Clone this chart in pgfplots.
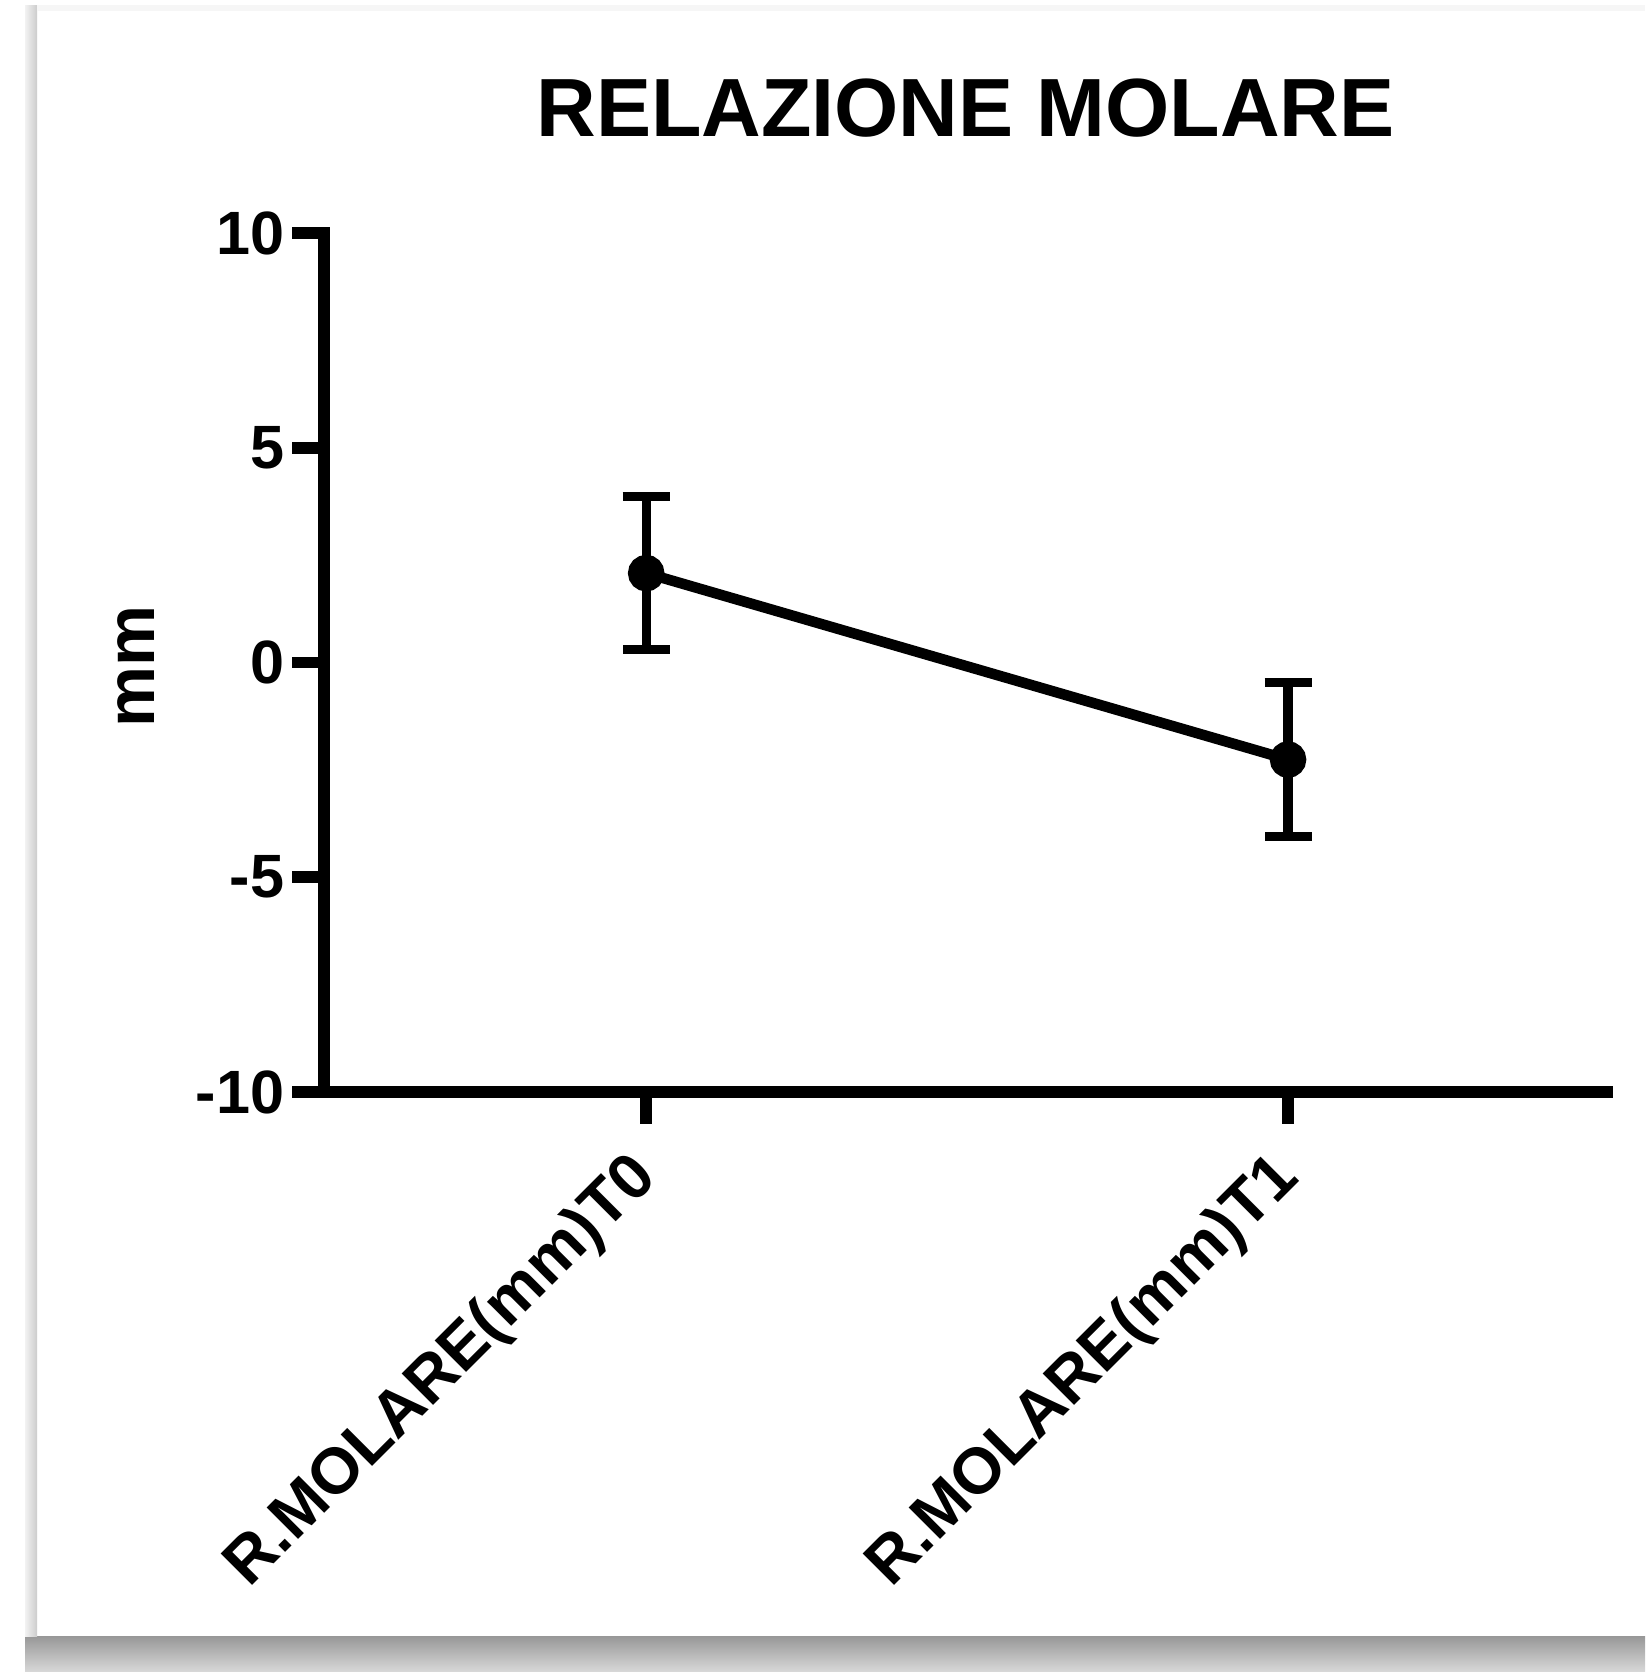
\documentclass[border=0pt]{standalone}
\usepackage{pgfplots}
\pgfplotsset{compat=1.18}
\usepackage{fontspec}
\setmainfont{Liberation Sans}
\begin{document}
\begin{tikzpicture}
\path[use as bounding box] (0,0) rectangle (164.5mm,167.2mm);
\fill[white] (0,0) rectangle (164.5mm,167.2mm);
% frame / shadow
\shade[top color=gray!80, bottom color=gray!30] (2.5mm,0) rectangle (164.5mm,3.5mm);
\shade[left color=gray!10, right color=gray!40] (2.5mm,3.5mm) rectangle (3.7mm,166.6mm);
\fill[gray!7] (3.7mm,166.1mm) rectangle (164.5mm,166.7mm);
\begin{axis}[
  at={(32.4mm,58.0mm)}, anchor=south west,
  scale only axis, width=128.3mm, height=85.9mm,
  xmin=-0.502, xmax=1.497, ymin=-10, ymax=10,
  axis x line=bottom, axis y line=left,
  axis line style={-, line width=3.4pt, line cap=rect},
  tick align=outside, major tick length=3.2mm,
  tick style={line width=3.4pt, black},
  xtick={0,1}, xticklabels={R.MOLARE(mm)T0, R.MOLARE(mm)T1},
  ytick={-10,-5,0,5,10}, yticklabels={-10,-5,0,5,10},
  xticklabel style={rotate=45, anchor=east, yshift=-3.15mm, xshift=-1.8mm, font=\fontsize{18.4}{19}\selectfont\bfseries},
  yticklabel style={font=\fontsize{17.4}{18}\selectfont\bfseries, inner sep=0.7mm},
  title={RELAZIONE MOLARE},
  title style={font=\fontsize{23.5}{24}\selectfont\bfseries, at={(axis description cs:0.5,1)}, anchor=center, yshift=10.4mm},
  ylabel={mm},
  ylabel style={font=\fontsize{19.5}{20}\selectfont\bfseries, at={(axis description cs:-0.1465,0.495)}, anchor=center},
]
\addplot[black, line width=3pt, mark=*, mark size=1.3mm, mark options={solid},
  error bars/.cd, y dir=both, y explicit,
  error bar style={line width=2.6pt},
  error mark options={rotate=90, mark size=2.35mm, line width=2.6pt}]
  coordinates {(0,2.08) +- (0,1.78) (1,-2.26) +- (0,1.79)};
\end{axis}
\end{tikzpicture}
\end{document}
